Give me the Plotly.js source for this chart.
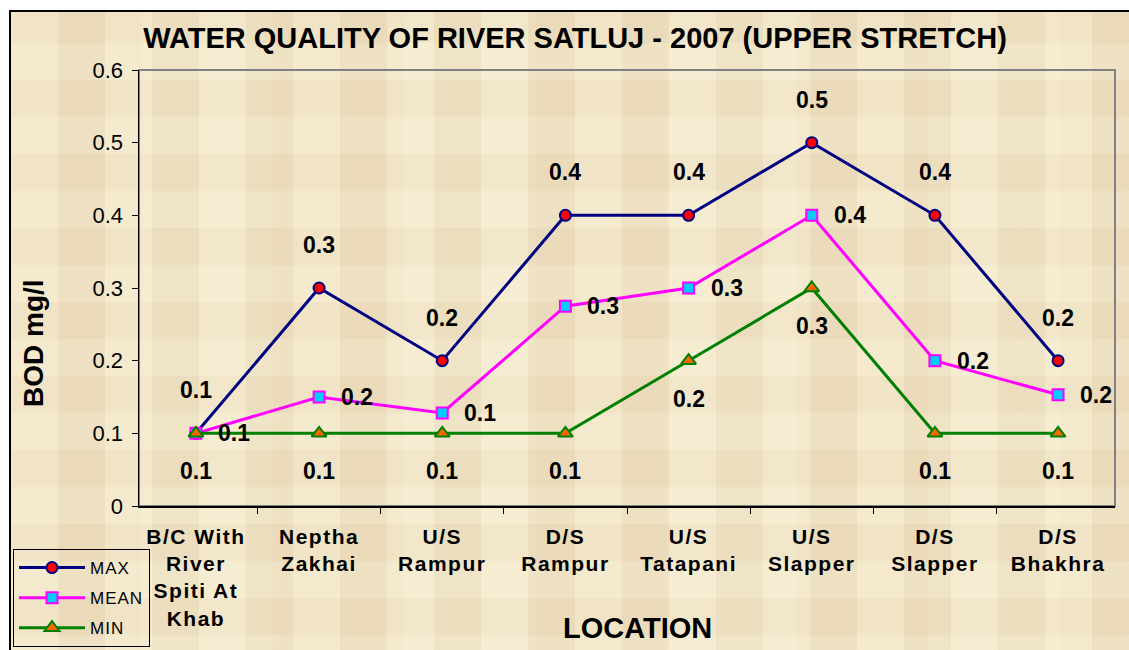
<!DOCTYPE html>
<html>
<head>
<meta charset="utf-8">
<script src="https://cdn.plot.ly/plotly-3.0.1.min.js"></script>
<style>
  html, body { margin: 0; padding: 0; background: #ffffff; width: 1129px; height: 650px; overflow: hidden; }
  #bg {
    position: absolute; left: 9px; top: 10px; width: 1140px; height: 660px;
    border-left: 2px solid #000; border-top: 2px solid #000;
    background-color: #eee2c4;
    background-image:
      repeating-linear-gradient(90deg, rgba(255,250,228,0.22) 0px, rgba(255,250,228,0.22) 47px, rgba(215,190,150,0.10) 47px, rgba(215,190,150,0.10) 94px),
      repeating-linear-gradient(0deg, rgba(255,248,225,0.18) 0px, rgba(255,248,225,0.18) 37px, rgba(225,198,160,0.12) 37px, rgba(225,198,160,0.12) 74px),
      repeating-linear-gradient(90deg, rgba(240,215,180,0.10) 0px, rgba(240,215,180,0.10) 131px, rgba(255,255,235,0.10) 131px, rgba(255,255,235,0.10) 262px);
  }
  #chart { position: absolute; left: 0; top: 0; width: 1129px; height: 650px; }
  .xtick text { letter-spacing: 1.5px; }
  .legendtext { letter-spacing: 1px; }
</style>
</head>
<body>
<div id="bg"></div>
<div id="chart"></div>
<script>
const locations = [
  "B/C With<br>River<br>Spiti At<br>Khab",
  "Neptha<br>Zakhai",
  "U/S<br>Rampur",
  "D/S<br>Rampur",
  "U/S<br>Tatapani",
  "U/S<br>Slapper",
  "D/S<br>Slapper",
  "D/S<br>Bhakhra"
];
const maxValues  = [0.1, 0.3, 0.2, 0.4, 0.4, 0.5, 0.4, 0.2];
const meanValues = [0.1, 0.15, 0.128, 0.275, 0.3, 0.4, 0.2, 0.153];
const minValues  = [0.1, 0.1, 0.1, 0.1, 0.2, 0.3, 0.1, 0.1];
const yTicks = [0, 0.1, 0.2, 0.3, 0.4, 0.5, 0.6];

const FONT = "Liberation Sans, Arial, sans-serif";
const fmt = v => (Math.round(v * 10 + 1e-9) / 10).toFixed(1);
const labelFont = { family: FONT, size: 23, color: "#000" };

const traces = [
  {
    name: "MAX", legendgroup: "a", x: locations, y: maxValues, type: "scatter", mode: "lines+markers",
    line: { color: "#000080", width: 3 },
    marker: { symbol: "circle", size: 11, color: "#ff0000", line: { color: "#000080", width: 2 } }
  },
  {
    name: "MEAN", legendgroup: "b", x: locations, y: meanValues, type: "scatter", mode: "lines+markers",
    line: { color: "#ff00ff", width: 3 },
    marker: { symbol: "square", size: 11, color: "#00ccff", line: { color: "#ff00ff", width: 2 } }
  },
  {
    name: "MIN", legendgroup: "c", x: locations, y: minValues, type: "scatter", mode: "lines+markers",
    line: { color: "#008000", width: 3 },
    marker: { symbol: "triangle-up", size: 13, color: "#ff6600", line: { color: "#008000", width: 2 } }
  }
];

const annotations = [];
locations.forEach((loc, i) => {
  annotations.push({ x: loc, y: maxValues[i], xref: "x", yref: "y", text: "<b>" + fmt(maxValues[i]) + "</b>",
    showarrow: false, yshift: 43, font: labelFont });
  annotations.push({ x: loc, y: meanValues[i], xref: "x", yref: "y", text: "<b>" + fmt(meanValues[i]) + "</b>",
    showarrow: false, xshift: 38, font: labelFont });
  annotations.push({ x: loc, y: minValues[i], xref: "x", yref: "y", text: "<b>" + fmt(minValues[i]) + "</b>",
    showarrow: false, yshift: -38, font: labelFont });
});
annotations.push({
  text: "<b>LOCATION</b>", xref: "paper", yref: "paper", x: (637 - 139) / 976, y: (506 - 628) / 436,
  xanchor: "center", yanchor: "middle", showarrow: false,
  font: { family: FONT, size: 29, color: "#000" }
});
annotations.push({
  text: "<b>BOD mg/l</b>", xref: "paper", yref: "paper", x: (33 - 139) / 976, y: (506 - 343) / 436,
  xanchor: "center", yanchor: "middle", textangle: -90, showarrow: false,
  font: { family: FONT, size: 28, color: "#000" }
});

const layout = {
  width: 1129, height: 650,
  margin: { l: 139, r: 14, t: 70, b: 144, autoexpand: false },
  paper_bgcolor: "rgba(0,0,0,0)",
  plot_bgcolor: "rgba(0,0,0,0)",
  font: { family: FONT, color: "#000" },
  title: {
    text: "<b>WATER QUALITY OF RIVER SATLUJ - 2007 (UPPER STRETCH)</b>",
    x: 575 / 1129, xanchor: "center", y: 1 - 38 / 650, yanchor: "middle",
    font: { family: FONT, size: 29, color: "#000" }
  },
  xaxis: {
    type: "category", categoryarray: locations, categoryorder: "array",
    showline: true, linecolor: "#000", linewidth: 1.5,
    ticks: "outside", tickson: "boundaries", ticklen: 6, tickcolor: "#000",
    ticklabelstandoff: 11,
    showgrid: false, zeroline: false,
    tickfont: { family: FONT, size: 21, color: "#000", weight: "bold" },
    automargin: false
  },
  yaxis: {
    range: [0, 0.6], tickvals: yTicks, ticktext: yTicks.map(v => v === 0 ? "0" : v.toFixed(1)),
    showline: true, linecolor: "#000", linewidth: 1.5,
    ticks: "outside", ticklen: 6, tickcolor: "#000",
    ticklabelstandoff: 4,
    showgrid: false, zeroline: false,
    tickfont: { family: FONT, size: 22, color: "#000" },
    automargin: false
  },
  shapes: [{
    type: "rect", xref: "paper", yref: "paper", x0: 0, x1: 1, y0: 0, y1: 1,
    line: { color: "#808080", width: 2 }, layer: "below"
  }],
  legend: {
    x: (13 - 139) / 976, y: (506 - 549) / 436, xanchor: "left", yanchor: "top",
    bgcolor: "rgba(0,0,0,0)", bordercolor: "#000", borderwidth: 1,
    font: { family: FONT, size: 17, color: "#000" },
    tracegroupgap: 5, itemwidth: 66
  },
  annotations: annotations,
  showlegend: true
};

Plotly.newPlot("chart", traces, layout, { displayModeBar: false, staticPlot: true });
</script>
</body>
</html>
